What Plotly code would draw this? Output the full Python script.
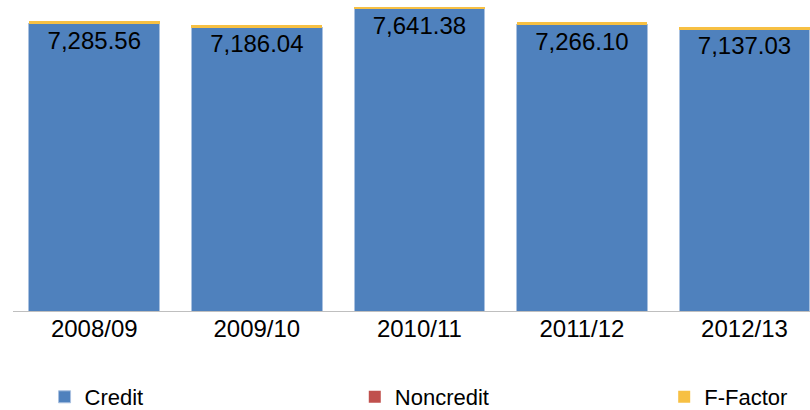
import plotly.graph_objects as go

years = ["2008/09", "2009/10", "2010/11", "2011/12", "2012/13"]
totals = [7285.56, 7186.04, 7641.38, 7266.10, 7137.03]
f_factor = [55, 42, 42, 68, 48]
noncredit = [0, 0, 0, 0, 0]
credit = [t - f - n for t, f, n in zip(totals, f_factor, noncredit)]
labels = [f"{t:,.2f}" for t in totals]

FONT = "Liberation Sans, Arial, sans-serif"

fig = go.Figure()
fig.add_trace(go.Bar(
    x=years, y=credit, name="Credit", legend="legend",
    marker=dict(color="#4F81BD", line=dict(color="#A9C1E0", width=1)),
    text=labels, textposition="inside", insidetextanchor="end",
    textangle=0, constraintext="none",
    textfont=dict(family=FONT, size=24, color="black"),
))
fig.add_trace(go.Bar(
    x=years, y=noncredit, name="Noncredit", legend="legend2",
    marker=dict(color="#C0504D", line=dict(width=0)),
))
fig.add_trace(go.Bar(
    x=years, y=f_factor, name="F-Factor", legend="legend3",
    marker=dict(color="#F7C043", line=dict(width=0)),
))

def leg(x):
    return dict(
        orientation="h", xref="container", yref="paper",
        x=x, y=-0.2765, xanchor="left", yanchor="middle",
        font=dict(family=FONT, size=22, color="black"),
        bgcolor="rgba(0,0,0,0)", itemclick=False,
    )

fig.update_layout(
    width=810, height=410,
    barmode="stack", bargap=0.196,
    margin=dict(l=13, r=0, t=0, b=99, autoexpand=False),
    paper_bgcolor="white", plot_bgcolor="white",
    font=dict(family=FONT, size=24, color="black"),
    showlegend=True,
    legend=leg(0.055), legend2=leg(0.438), legend3=leg(0.820),
    xaxis=dict(
        range=[-0.5, 4.403], showline=True, linecolor="#BFBFBF", linewidth=1,
        ticks="", showgrid=False, tickfont=dict(family=FONT, size=24),
        ticklabelstandoff=-4,
        fixedrange=True, automargin=False,
    ),
    yaxis=dict(range=[0, 7825], visible=False, showgrid=False,
               fixedrange=True, automargin=False),
)

fig.write_html("out.html", config={"displayModeBar": False},
               post_script="document.body.style.margin='0';document.body.style.overflow='hidden';")
